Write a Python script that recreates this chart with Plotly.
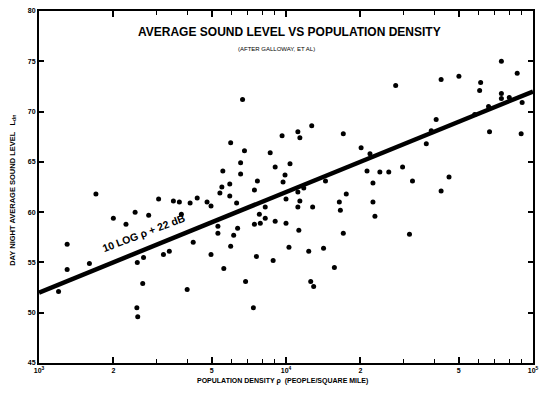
import plotly.graph_objects as go
import math

# Population density (people / square mile) and day-night average sound level (dB)
density = [1200, 1300, 1300, 1600, 1700, 2000, 2250, 2450, 2780, 3050, 3500,
           2500, 2650, 2630, 2490, 2510, 3190, 3370, 3700, 4090, 4370, 4790,
           4970, 3770, 5400, 5500, 5920, 5920, 6310, 7450, 7660, 5300, 5300,
           6370, 6140, 8240, 7800, 8240, 7450, 7870, 9040, 10000, 5970, 4210,
           4970, 5600, 3980, 6860, 7590, 8870, 7380, 6670, 5970, 6790, 6550,
           6550, 5550, 8630, 9040, 9640, 10380, 9910, 9730, 11170, 11380,
           12710, 10000, 11170, 11800, 11380, 11170, 12820, 14450, 17060,
           16440, 16600, 17540, 20140, 21880, 21280, 22490, 22490, 22910,
           23990, 26060, 29650, 32510, 36980, 38730, 40550, 42460, 45710,
           42460, 27800, 50120, 61380, 60810, 58080, 66680, 66070, 74470,
           74470, 80170, 74470, 86300, 90370, 89540, 11270, 10280, 12360,
           14190, 15700, 12590, 12940, 17060, 31620]
level = [52.1, 54.3, 56.8, 54.9, 61.8, 59.4, 58.8, 60.0, 59.7, 61.3, 61.1,
         55.0, 55.5, 52.9, 50.5, 49.6, 55.8, 56.1, 61.0, 60.9, 61.4, 61.0,
         60.6, 59.8, 61.9, 62.5, 62.8, 61.6, 60.9, 62.2, 63.1, 58.6, 57.9,
         58.4, 57.7, 60.5, 59.8, 59.4, 58.8, 58.9, 59.1, 58.9, 56.6, 57.0,
         55.8, 54.4, 52.3, 53.1, 55.6, 55.2, 50.5, 71.2, 66.9, 66.1, 64.9,
         63.8, 64.1, 65.9, 64.5, 67.6, 64.8, 63.7, 63.0, 68.0, 67.4,
         68.6, 61.3, 62.0, 62.4, 61.1, 60.5, 60.5, 63.1, 67.8,
         61.0, 60.2, 61.8, 66.4, 65.8, 64.1, 62.9, 61.0, 59.6,
         64.0, 64.0, 64.5, 63.1, 66.8, 68.1, 69.2, 62.1, 63.5,
         73.2, 72.6, 73.5, 72.9, 72.1, 69.7, 68.0, 70.5, 71.8,
         71.3, 71.4, 75.0, 73.8, 70.9, 67.8, 58.2, 56.5, 56.1,
         56.4, 54.5, 53.1, 52.6, 57.9, 57.8]

fit_density = [1000, 100000]
fit_slope = 10
fit_offset = 22

x_tickvals = [1000, 2000, 5000, 10000, 20000, 50000, 100000]
x_ticktext = ["10<sup>3</sup>", "2", "5", "10<sup>4</sup>", "2", "5", "10<sup>5</sup>"]
x_minor = [m * 10 ** e for e in (3, 4) for m in range(2, 10)]
y_tickvals = [45, 50, 55, 60, 65, 70, 75, 80]

fit_level = [fit_slope * math.log10(d) + fit_offset for d in fit_density]

FONT = "Liberation Sans"

fig = go.Figure()
fig.add_trace(go.Scatter(x=fit_density, y=fit_level, mode="lines",
                         line=dict(color="black", width=4.5), hoverinfo="skip"))
fig.add_trace(go.Scatter(x=density, y=level, mode="markers",
                         marker=dict(color="black", size=5, symbol="circle")))

axis_common = dict(showline=True, linecolor="black", linewidth=2, mirror="allticks",
                   ticks="inside", tickcolor="black", showgrid=False, zeroline=False,
                   tickfont=dict(family=FONT, size=7, color="black", weight="bold"))

fig.update_xaxes(type="log", range=[3, 5], tickmode="array", tickvals=x_tickvals,
                 ticktext=x_ticktext, ticklen=6, tickwidth=1.5,
                 minor=dict(tickmode="array", tickvals=x_minor, ticks="inside",
                            ticklen=4, tickcolor="black", tickwidth=1.2, showgrid=False),
                 **axis_common)
fig.update_yaxes(range=[45, 80], tickmode="array", tickvals=y_tickvals,
                 ticklen=5, tickwidth=1.5, **axis_common)

fig.update_layout(
    width=544, height=394, showlegend=False,
    margin=dict(l=39, r=5, t=11, b=31, pad=0),
    plot_bgcolor="white", paper_bgcolor="white",
    annotations=[
        dict(text="AVERAGE SOUND LEVEL VS POPULATION DENSITY", xref="paper", yref="paper",
             x=0.508, y=0.94, xanchor="center", yanchor="middle", showarrow=False,
             font=dict(family=FONT, size=12, color="black", weight="bold")),
        dict(text="(AFTER GALLOWAY, ET AL)", xref="paper", yref="paper",
             x=0.48, y=0.893, xanchor="center", yanchor="middle", showarrow=False,
             font=dict(family=FONT, size=6, color="black")),
        dict(text="DAY NIGHT AVERAGE SOUND LEVEL   L<sub>dn</sub>", xref="paper", yref="paper",
             x=-0.054, y=0.49, xanchor="center", yanchor="middle", showarrow=False,
             textangle=-90,
             font=dict(family=FONT, size=7.5, color="black", weight="bold")),
        dict(text="POPULATION DENSITY ρ  (PEOPLE/SQUARE MILE)", xref="paper", yref="paper",
             x=0.492, y=-0.051, xanchor="center", yanchor="middle", showarrow=False,
             font=dict(family=FONT, size=7, color="black", weight="bold")),
        dict(text="10 LOG ρ + 22 dB", x=math.log10(2650), y=57.9, xref="x", yref="y",
             xanchor="center", yanchor="middle", showarrow=False, textangle=-21,
             font=dict(family=FONT, size=10.5, color="black", weight="bold")),
    ],
)

fig.write_html("out.html")
